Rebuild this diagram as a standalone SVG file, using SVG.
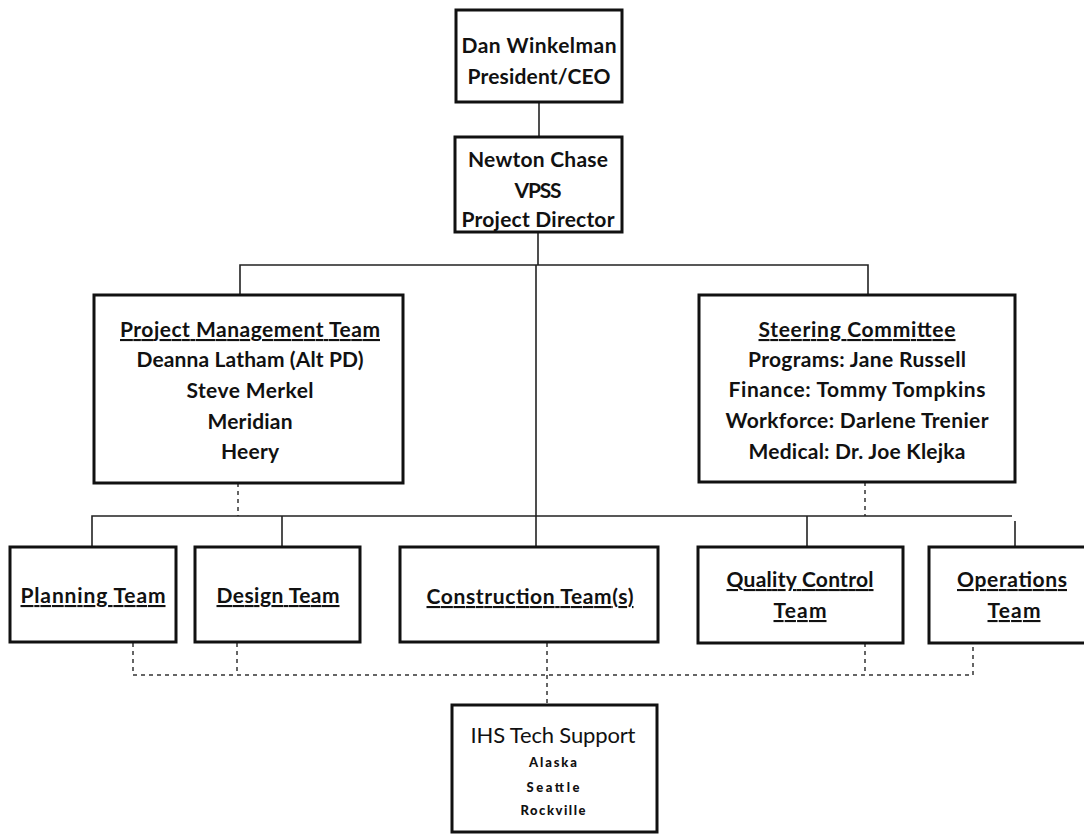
<svg xmlns="http://www.w3.org/2000/svg" width="1084" height="834" viewBox="0 0 1084 834">
<style>
.box{fill:#fff;stroke:#111;stroke-width:3}
.ln{fill:none;stroke:#222;stroke-width:1.6}
.dash{fill:none;stroke:#333;stroke-width:1.5;stroke-dasharray:4 4}
text{font-family:Lato,"Open Sans","Liberation Sans",sans-serif;font-weight:bold;font-size:21px;fill:#111;text-anchor:middle}
.u{text-decoration:underline}
.reg{font-weight:normal;font-size:22px}
.sm{font-size:13px;font-weight:900}
</style>
<rect width="1084" height="834" fill="#fff"/>
<g id="connectors">
<path class="ln" d="M539 102V138"/>
<path class="ln" d="M538 232V265"/>
<path class="ln" d="M240 295V265H868V295"/>
<path class="ln" d="M536 265V547"/>
<path class="dash" d="M238 483V516"/>
<path class="dash" d="M865 482V516"/>
<path class="ln" d="M92 547V516H1012"/>
<path class="ln" d="M282 516V547"/>
<path class="ln" d="M807 516V547"/>
<path class="ln" d="M1015 521V547"/>
<path class="dash" d="M133 643V675H973V643"/>
<path class="dash" d="M237 643V675"/>
<path class="dash" d="M865 643V675"/>
<path class="dash" d="M547 643V705"/>
</g>
<g id="ceo">
<rect class="box" x="456" y="10" width="166" height="92"/>
<text x="539" y="53" textLength="155">Dan Winkelman</text>
<text x="539" y="84" textLength="143">President/CEO</text>
</g>
<g id="pd">
<rect class="box" x="455" y="137" width="167" height="95"/>
<text x="538" y="167" textLength="140">Newton Chase</text>
<text x="538" y="198" textLength="47">VPSS</text>
<text x="538" y="227" textLength="153">Project Director</text>
</g>
<g id="pm">
<rect class="box" x="94" y="295" width="309" height="188"/>
<text class="u" x="250" y="337" textLength="260">Project Management Team</text>
<text x="250" y="367" textLength="227">Deanna Latham (Alt PD)</text>
<text x="250" y="398" textLength="127">Steve Merkel</text>
<text x="250" y="429" textLength="85">Meridian</text>
<text x="250" y="459" textLength="58">Heery</text>
</g>
<g id="steering">
<rect class="box" x="699" y="295" width="316" height="187"/>
<text class="u" x="857" y="337" textLength="197">Steering Committee</text>
<text x="857" y="367" textLength="218">Programs: Jane Russell</text>
<text x="857" y="397" textLength="257">Finance: Tommy Tompkins</text>
<text x="857" y="428" textLength="263">Workforce: Darlene Trenier</text>
<text x="857" y="459" textLength="217">Medical: Dr. Joe Klejka</text>
</g>
<g id="planning">
<rect class="box" x="10" y="547" width="166" height="95"/>
<text class="u" x="93" y="603" textLength="145">Planning Team</text>
</g>
<g id="design">
<rect class="box" x="195" y="547" width="165" height="95"/>
<text class="u" x="278" y="603" textLength="123">Design Team</text>
</g>
<g id="construction">
<rect class="box" x="400" y="547" width="258" height="95"/>
<text class="u" x="530" y="604" textLength="207">Construction Team(s)</text>
</g>
<g id="qc">
<rect class="box" x="698" y="547" width="205" height="96"/>
<text class="u" x="800" y="587" textLength="147">Quality Control</text>
<text class="u" x="800" y="618" textLength="53">Team</text>
</g>
<g id="operations">
<rect class="box" x="929" y="547" width="168" height="96"/>
<text class="u" x="1012" y="587" textLength="110">Operations</text>
<text class="u" x="1014" y="618" textLength="53">Team</text>
</g>
<g id="ihs">
<rect class="box" x="452" y="705" width="205" height="127"/>
<text class="reg" x="553" y="743" textLength="165">IHS Tech Support</text>
<text class="sm" x="553" y="767" textLength="48">Alaska</text>
<text class="sm" x="553" y="792" textLength="53">Seattle</text>
<text class="sm" x="553" y="815" textLength="65">Rockville</text>
</g>
</svg>
